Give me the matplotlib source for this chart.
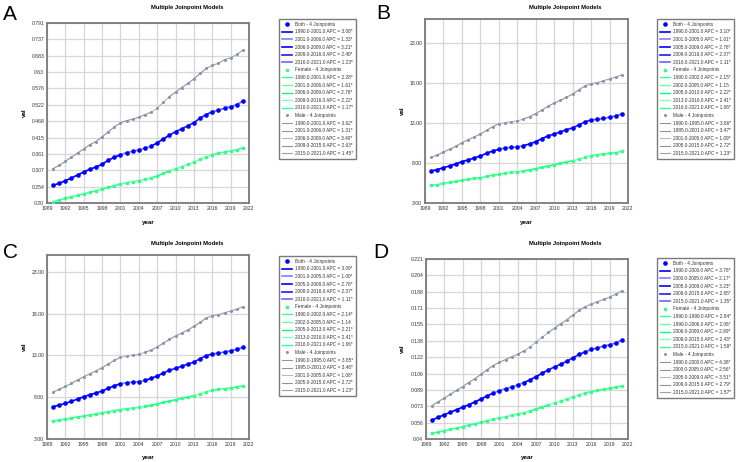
import numpy as np
import matplotlib
matplotlib.use('Agg')
import matplotlib.pyplot as plt

plt.rcParams['font.family'] = ['Liberation Sans', 'DejaVu Sans']

years = list(range(1990, 2022))

# ---- panel A ----
a_both = [0.2581, 0.2647, 0.2734, 0.2822, 0.2921, 0.3019, 0.3107, 0.3184, 0.3271, 0.3403, 0.3502,
          0.3589, 0.3655, 0.3699, 0.3743, 0.3797, 0.3863, 0.3973, 0.4104, 0.4225, 0.4345, 0.4433,
          0.4532, 0.4641, 0.4784, 0.4904, 0.4992, 0.5047, 0.5113, 0.5156, 0.5233, 0.5343]
a_female = [0.2044, 0.2099, 0.2153, 0.2208, 0.2252, 0.2307, 0.2351, 0.2406, 0.2460, 0.2515, 0.2570,
            0.2625, 0.2669, 0.2701, 0.2734, 0.2778, 0.2822, 0.2888, 0.2975, 0.3052, 0.3129, 0.3195,
            0.3271, 0.3348, 0.3436, 0.3512, 0.3589, 0.3633, 0.3677, 0.3710, 0.3743, 0.3819]
a_male = [0.3129, 0.3238, 0.3370, 0.3502, 0.3644, 0.3776, 0.3918, 0.4017, 0.4170, 0.4334, 0.4499,
          0.4630, 0.4707, 0.4751, 0.4817, 0.4904, 0.4981, 0.5113, 0.5310, 0.5496, 0.5639, 0.5792,
          0.5924, 0.6077, 0.6253, 0.6417, 0.6516, 0.6592, 0.6702, 0.6768, 0.6877, 0.7020]
a_seg_both = [(1990, 2001, '3.08*'), (2001, 2006, '1.33*'), (2006, 2009, '3.21*'), (2009, 2016, '2.40*'), (2016, 2021, '1.23*')]
a_seg_female = [(1990, 2001, '2.28*'), (2001, 2006, '1.61*'), (2006, 2009, '2.78*'), (2009, 2016, '2.22*'), (2016, 2021, '1.17*')]
a_seg_male = [(1990, 2001, '3.62*'), (2001, 2006, '1.31*'), (2006, 2009, '3.40*'), (2009, 2015, '2.63*'), (2015, 2021, '1.45*')]
a_yticks = ['0.20', '0.254', '0.307', '0.361', '0.415', '0.468', '0.522', '0.576', '0.63', '0.683', '0.737', '0.791']

# ---- panel B ----
b_both = [7.00, 7.17, 7.42, 7.63, 7.88, 8.17, 8.38, 8.63, 8.88, 9.21, 9.50, 9.71, 9.88, 9.96, 10.00, 10.17,
          10.38, 10.67, 11.04, 11.38, 11.63, 11.88, 12.17, 12.38, 12.75, 13.13, 13.38, 13.46, 13.58, 13.71, 13.88, 14.13]
b_female = [5.21, 5.29, 5.46, 5.58, 5.71, 5.83, 5.96, 6.08, 6.17, 6.33, 6.46, 6.58, 6.71, 6.83, 6.88, 7.00,
            7.13, 7.29, 7.46, 7.63, 7.79, 7.96, 8.13, 8.29, 8.50, 8.71, 8.92, 9.04, 9.13, 9.21, 9.29, 9.46]
b_male = [8.71, 9.00, 9.38, 9.71, 10.08, 10.54, 10.92, 11.25, 11.63, 12.08, 12.54, 12.92, 13.04, 13.17, 13.25, 13.50,
          13.79, 14.17, 14.63, 15.08, 15.50, 15.83, 16.21, 16.63, 17.13, 17.63, 17.92, 18.04, 18.29, 18.50, 18.75, 19.00]
b_seg_both = [(1990, 2001, '3.10*'), (2001, 2005, '1.01*'), (2005, 2009, '2.76*'), (2009, 2016, '2.37*'), (2016, 2021, '1.11*')]
b_seg_female = [(1990, 2002, '2.15*'), (2002, 2005, '1.15'), (2005, 2013, '2.22*'), (2013, 2016, '2.41*'), (2016, 2021, '1.06*')]
b_seg_male = [(1990, 1995, '3.86*'), (1995, 2001, '3.47*'), (2001, 2005, '1.09*'), (2005, 2015, '2.72*'), (2015, 2021, '1.23*')]
b_yticks = ['3.00', '8.00', '13.00', '18.00', '23.00']

# ---- panel C ----
c_both = [6.86, 7.06, 7.26, 7.50, 7.78, 8.06, 8.30, 8.50, 8.74, 9.06, 9.37, 9.61, 9.73, 9.81, 9.85, 10.01,
          10.25, 10.53, 10.89, 11.21, 11.45, 11.69, 11.96, 12.20, 12.60, 12.96, 13.16, 13.28, 13.40, 13.56, 13.72, 13.96]
c_female = [5.15, 5.27, 5.39, 5.51, 5.63, 5.75, 5.87, 5.99, 6.11, 6.27, 6.39, 6.51, 6.63, 6.71, 6.78, 6.90,
            7.02, 7.18, 7.38, 7.54, 7.70, 7.86, 8.02, 8.18, 8.42, 8.62, 8.82, 8.94, 9.02, 9.10, 9.22, 9.37]
c_male = [8.62, 8.94, 9.29, 9.65, 10.05, 10.45, 10.81, 11.13, 11.53, 11.96, 12.40, 12.76, 12.92, 13.04, 13.12, 13.36,
          13.64, 14.00, 14.47, 14.91, 15.31, 15.67, 16.03, 16.47, 16.94, 17.46, 17.74, 17.86, 18.10, 18.30, 18.54, 18.82]
c_seg_both = [(1990, 2001, '3.09*'), (2001, 2005, '1.00*'), (2005, 2008, '2.78*'), (2008, 2016, '2.37*'), (2016, 2021, '1.11*')]
c_seg_female = [(1990, 2002, '2.14*'), (2002, 2005, '1.14'), (2005, 2013, '2.21*'), (2013, 2016, '2.41*'), (2016, 2021, '1.06*')]
c_seg_male = [(1990, 1995, '3.85*'), (1995, 2001, '3.46*'), (2001, 2005, '1.08*'), (2005, 2015, '2.72*'), (2015, 2021, '1.23*')]
c_yticks = ['3.00', '8.00', '13.00', '18.00', '23.00']

# ---- panel D ----
d_both = [0.0591, 0.0618, 0.0645, 0.0669, 0.0696, 0.0719, 0.0746, 0.0773, 0.0803, 0.0833, 0.0863,
          0.0887, 0.0907, 0.0924, 0.0944, 0.0968, 0.0994, 0.1028, 0.1062, 0.1095, 0.1125, 0.1152,
          0.1182, 0.1216, 0.1250, 0.1276, 0.1300, 0.1317, 0.1334, 0.1347, 0.1367, 0.1394]
d_female = [0.0457, 0.0471, 0.0484, 0.0497, 0.0511, 0.0524, 0.0538, 0.0554, 0.0568, 0.0585, 0.0598,
            0.0612, 0.0625, 0.0638, 0.0652, 0.0665, 0.0682, 0.0702, 0.0722, 0.0743, 0.0763, 0.0783,
            0.0803, 0.0823, 0.0843, 0.0863, 0.0877, 0.0890, 0.0900, 0.0910, 0.0920, 0.0934]
d_male = [0.0736, 0.0776, 0.0813, 0.0850, 0.0890, 0.0927, 0.0968, 0.1008, 0.1051, 0.1098, 0.1139,
          0.1172, 0.1199, 0.1226, 0.1253, 0.1287, 0.1327, 0.1377, 0.1424, 0.1471, 0.1515, 0.1559,
          0.1599, 0.1646, 0.1693, 0.1730, 0.1757, 0.1780, 0.1804, 0.1827, 0.1857, 0.1891]
d_seg_both = [(1990, 2000, '3.78*'), (2000, 2005, '2.17*'), (2005, 2009, '3.23*'), (2009, 2015, '2.65*'), (2015, 2021, '1.35*')]
d_seg_female = [(1990, 1999, '2.84*'), (1999, 2006, '2.06*'), (2006, 2009, '2.89*'), (2009, 2015, '2.43*'), (2015, 2021, '1.59*')]
d_seg_male = [(1990, 2000, '4.38*'), (2000, 2005, '2.56*'), (2005, 2009, '3.51*'), (2009, 2015, '2.79*'), (2015, 2021, '1.57*')]
d_yticks = ['0.04', '0.056', '0.073', '0.089', '0.106', '0.122', '0.138', '0.155', '0.171', '0.188', '0.204', '0.221']

xticks = list(range(1989, 2023, 3))

blue_shades = ['#0000ff', '#7f7fff', '#0000ff', '#1a1aff', '#6666ff']
green_shades = ['#33ff99', '#66ffaa', '#00ff80', '#80ffbf', '#33ff99']
gray_shades = ['#8a94a8', '#8f97a6', '#b0b8c8', '#8a94a8', '#9aa2b2']

W, H = 738, 462
fig = plt.figure(figsize=(W / 100, H / 100), dpi=100)


def px_axes(l, t, r, b):
    return fig.add_axes([l / W, 1 - b / H, (r - l) / W, (b - t) / H])


def draw_panel(letter, letter_xy, box, ylim, ylabels, series, leg_xy, title_xy, ylab_x, xlab_y):
    ax = px_axes(*box)
    handles, labels = [], []
    for name, vals, segs, shades, mcol, mk, ms, lw in series:
        arr = np.array(vals)
        yrs = np.array(years)
        start = len(handles)
        for i, (s, e, apc) in enumerate(segs):
            m = (yrs >= s) & (yrs <= e)
            ln, = ax.plot(yrs[m], arr[m], color=shades[i], lw=lw, zorder=2)
            handles.append(ln)
            labels.append(f'{s:.1f}-{e:.1f} APC = {apc}')
        pts, = ax.plot(yrs, arr, ls='none', marker=mk, ms=ms, color=mcol, mec=mcol, zorder=3)
        handles.insert(start, pts)
        labels.insert(start, f'{name} - 4 Joinpoints')
    ax.set_xlim(1989, 2022)
    ax.set_ylim(*ylim)
    ax.set_xticks(xticks)
    ax.set_xticklabels([str(x) for x in xticks])
    ax.set_yticks(np.linspace(ylim[0], float(ylabels[-1]), len(ylabels)))
    ax.set_yticklabels(ylabels)
    ax.tick_params(length=0, labelsize=3.7, pad=2, colors='#333333')
    ax.grid(True, color='#d6d6d6', lw=0.9)
    ax.set_axisbelow(True)
    for sp in ax.spines.values():
        sp.set_color('#7a7a7a')
        sp.set_linewidth(1.3)
    fig.text(title_xy[0] / W, 1 - title_xy[1] / H, 'Multiple Joinpoint Models',
             ha='center', va='center', fontsize=4.2, fontweight='bold')
    fig.text(ylab_x / W, 1 - ((box[1] + box[3]) / 2) / H, 'val', rotation=90,
             ha='center', va='center', fontsize=4.5, fontweight='bold')
    fig.text(((box[0] + box[2]) / 2) / W, 1 - xlab_y / H, 'year',
             ha='center', va='center', fontsize=4.5, fontweight='bold')
    fig.text(letter_xy[0] / W, 1 - letter_xy[1] / H, letter, ha='left', va='top', fontsize=15)
    leg = ax.legend(handles, labels, loc='upper left',
                    bbox_to_anchor=(leg_xy[0] / W, 1 - leg_xy[1] / H),
                    bbox_transform=fig.transFigure, fontsize=3.4, labelspacing=0.55,
                    handlelength=2.2, handletextpad=0.5, borderpad=0.6, borderaxespad=0,
                    fancybox=False, framealpha=1, edgecolor='#7a7a7a', numpoints=1)
    leg.get_frame().set_linewidth(1.0)
    for t in leg.get_texts():
        t.set_color('#333333')
    return ax


def series_set(both, female, male, sb, sf, sm):
    return [
        ('Both', both, sb, blue_shades, '#0000ff', 'o', 2.3, 1.2),
        ('Female', female, sf, green_shades, '#33ff88', 's', 1.6, 1.0),
        ('Male', male, sm, gray_shades, '#8a94a8', 'o', 1.2, 0.8),
    ]


draw_panel('A', (3, 5), (47, 23, 249, 203), (0.20, 0.791), a_yticks,
           series_set(a_both, a_female, a_male, a_seg_both, a_seg_female, a_seg_male),
           (279, 19), (187, 7), 24, 222)
draw_panel('B', (376, 4), (425, 19, 628, 203), (3.0, 26.0), b_yticks,
           series_set(b_both, b_female, b_male, b_seg_both, b_seg_female, b_seg_male),
           (657, 19), (565, 7), 402, 222)
draw_panel('C', (3, 243), (47, 255, 249, 439), (3.0, 25.0), c_yticks,
           series_set(c_both, c_female, c_male, c_seg_both, c_seg_female, c_seg_male),
           (279, 256), (187, 243), 24, 457)
draw_panel('D', (373, 243), (426, 259, 628, 439), (0.04, 0.221), d_yticks,
           series_set(d_both, d_female, d_male, d_seg_both, d_seg_female, d_seg_male),
           (657, 258), (565, 243), 402, 457)

fig.savefig('out.png', dpi=100)
